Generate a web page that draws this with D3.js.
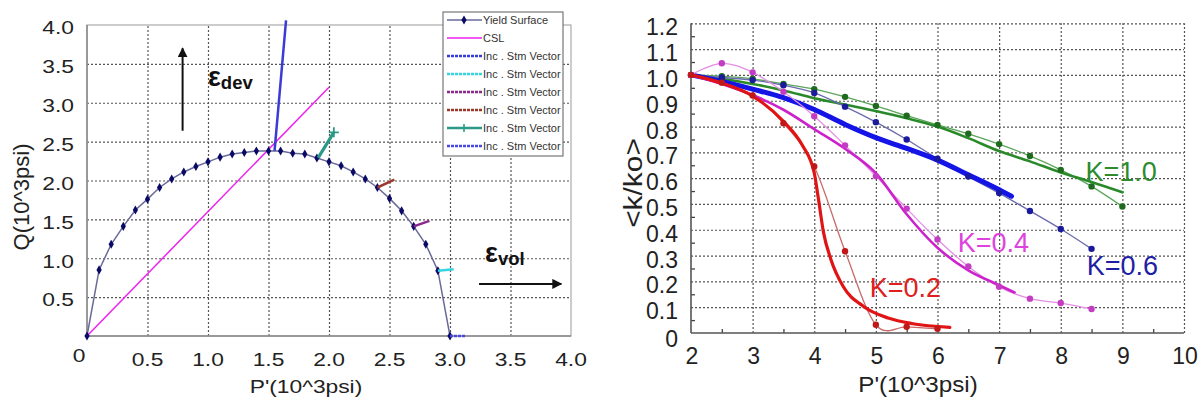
<!DOCTYPE html>
<html><head><meta charset="utf-8">
<script src="https://cdn.jsdelivr.net/npm/d3@7"></script>
<style>body{margin:0;background:#fff;} svg{display:block;font-family:"Liberation Sans",Arial,sans-serif;}</style>
</head><body><svg id="c" width="1201" height="405"></svg>
<script>
// ---------- LEFT CHART DATA ----------
const yieldP = [0,0.1,0.2,0.3,0.4,0.5,0.6,0.7,0.8,0.9,1.0,1.1,1.2,1.3,1.4,1.5,1.6,1.7,1.8,1.9,2.0,2.1,2.2,2.3,2.4,2.5,2.6,2.7,2.8,2.9,3.0];
const yieldQ = [0,0.85,1.18,1.41,1.62,1.76,1.91,2.02,2.11,2.18,2.24,2.30,2.34,2.36,2.38,2.38,2.38,2.35,2.34,2.29,2.24,2.19,2.11,2.02,1.91,1.77,1.61,1.41,1.18,0.84,0];
const cslP = [0, 2.0];
const cslQ = [0, 3.2];
const legendNames = ["Yield Surface","CSL","Inc . Stm Vector","Inc . Stm Vector","Inc . Stm Vector","Inc . Stm Vector","Inc . Stm Vector","Inc . Stm Vector"];
const vecStartP = [1.55, 2.90, 2.70, 2.40, 1.91, 3.00];
const vecStartQ = [2.38, 0.84, 1.41, 1.91, 2.29, 0.00];
const vecEndP   = [1.645, 3.03, 2.83, 2.54, 2.04, 3.13];
const vecEndQ   = [4.06, 0.86, 1.48, 2.01, 2.62, 0.00];
const leftXTicks = [0.5,1.0,1.5,2.0,2.5,3.0,3.5,4.0];
const leftYTicks = [0.5,1.0,1.5,2.0,2.5,3.0,3.5,4.0];

// ---------- RIGHT CHART DATA ----------
const kP = [2,2.5,3,3.5,4,4.5,5,5.5,6,6.5,7,7.5,8,8.5,9];
const k10 = [1.0,0.995,0.985,0.965,0.945,0.915,0.88,0.842,0.806,0.772,0.732,0.686,0.632,0.568,0.49];
const k06 = [1.0,0.99,0.98,0.96,0.93,0.877,0.817,0.75,0.675,0.606,0.542,0.473,0.403,0.326];
const k04 = [1.0,1.045,1.01,0.935,0.84,0.727,0.608,0.482,0.362,0.258,0.179,0.133,0.116,0.093];
const k02 = [1.0,0.97,0.92,0.813,0.645,0.317,0.032,0.024,0.016];
const fit10P = [2,2.5,3,3.5,4,4.5,5,5.5,6,6.5,7,7.5,8,8.5,9];
const fit10K = [1.0,0.985,0.965,0.94,0.91,0.885,0.86,0.832,0.8,0.755,0.705,0.665,0.622,0.585,0.545];
const fit06P = [2,2.5,3,3.5,4,4.5,5,5.5,6,6.5,7,7.2];
const fit06K = [1.0,0.975,0.945,0.912,0.866,0.808,0.757,0.715,0.67,0.613,0.555,0.53];
const fit04P = [2,2.5,3,3.5,4,4.5,5,5.5,6,6.5,7,7.25];
const fit04K = [1.0,0.965,0.922,0.865,0.79,0.714,0.619,0.46,0.33,0.243,0.185,0.157];
const fit02P = [2,2.5,3,3.5,3.8,4.0,4.07,4.15,4.27,4.47,4.8,5.2,5.6,6.2];
const fit02K = [1.0,0.968,0.918,0.82,0.73,0.62,0.516,0.39,0.285,0.18,0.103,0.058,0.036,0.022];
const rightXTicks = [2,3,4,5,6,7,8,9,10];
const rightYTicks = [0,0.1,0.2,0.3,0.4,0.5,0.6,0.7,0.8,0.9,1.0,1.1,1.2];
const kLabels = ["K=1.0","K=0.6","K=0.4","K=0.2"];
const kLabelP = [8.4, 8.42, 6.33, 4.9];
const kLabelK = [0.59, 0.225, 0.314, 0.139];

const svg = d3.select("#c");

function sText(g, x, y, s, size, sx, anchor){
  return g.append("text").attr("transform",`translate(${x},${y}) scale(${sx},1)`)
    .attr("text-anchor",anchor).attr("font-size",size).attr("fill","#222").text(s);
}

// ===== LEFT =====
const xL = d3.scaleLinear().domain([0,4]).range([87,571]);
const yL = d3.scaleLinear().domain([0,4]).range([336,25]);
const gL = svg.append("g");
const gridStyle = g => { g.select(".domain").remove(); g.selectAll("line").attr("stroke","#555").attr("stroke-width",1.2).attr("stroke-dasharray","2,2"); };
gL.append("g").attr("transform",`translate(0,${yL(0)})`)
  .call(d3.axisBottom(xL).tickValues(leftXTicks.slice(0,-1)).tickSize(-(yL(0)-yL(4))).tickFormat(""))
  .call(gridStyle);
gL.append("g").attr("transform",`translate(${xL(0)},0)`)
  .call(d3.axisLeft(yL).tickValues(leftYTicks.slice(0,-1)).tickSize(-(xL(4)-xL(0))).tickFormat(""))
  .call(gridStyle);
gL.append("rect").attr("x",xL(0)).attr("y",yL(4)).attr("width",xL(4)-xL(0)).attr("height",yL(0)-yL(4))
  .attr("fill","none").attr("stroke","#aaa").attr("stroke-width",1.2);
gL.append("line").attr("x1",xL(0)).attr("x2",xL(0)).attr("y1",yL(0)).attr("y2",yL(4)).attr("stroke","#888").attr("stroke-width",1.5);
gL.append("line").attr("x1",xL(0)).attr("x2",xL(4)).attr("y1",yL(0)).attr("y2",yL(0)).attr("stroke","#888").attr("stroke-width",1.5);
const fmt1 = d3.format(".1f");
leftYTicks.forEach(v => sText(gL, 74, yL(v)+9.3, fmt1(v), 19, 1.2, "end"));
leftXTicks.forEach(v => sText(gL, xL(v), 366, fmt1(v), 19, 1.2, "middle"));
sText(gL, 79, 362, "0", 19, 1.2, "middle");
sText(gL, 306, 393, "P'(10^3psi)", 19, 1.2, "middle");
gL.append("text").attr("transform","translate(29,197) rotate(-90)").attr("text-anchor","middle")
  .attr("font-size",22).attr("fill","#222").text("Q(10^3psi)");

// CSL
gL.append("path").datum(cslP.map((p,i)=>[p,cslQ[i]]))
  .attr("d", d3.line().x(d=>xL(d[0])).y(d=>yL(d[1])))
  .attr("fill","none").attr("stroke","#ee22ee").attr("stroke-width",1.5);
// yield surface
const ys = yieldP.map((p,i)=>[p,yieldQ[i]]);
gL.append("path").datum(ys).attr("d", d3.line().x(d=>xL(d[0])).y(d=>yL(d[1])))
  .attr("fill","none").attr("stroke","#6a6a9a").attr("stroke-width",1.5);
const diamond = d3.symbol().type(d3.symbolDiamond).size(24);
gL.selectAll(".ym").data(ys).join("path").attr("d",diamond)
  .attr("transform",d=>`translate(${xL(d[0])},${yL(d[1])})`).attr("fill","#0a0a66");
// vectors
const vecColors = ["#3b3bd6","#33d6e0","#8a2a8a","#9b3a2e","#2a9a86","#4a4ae0"];
const vecWidths = [2.5,2.5,2.5,2.5,3.2,2.5];
vecStartP.forEach((p,i)=>{
  gL.append("path").datum([[p,vecStartQ[i]],[vecEndP[i],vecEndQ[i]]])
    .attr("d", d3.line().x(d=>xL(d[0])).y(d=>yL(d[1])))
    .attr("fill","none").attr("stroke",vecColors[i]).attr("stroke-width",vecWidths[i])
    .attr("stroke-dasharray", i===5 ? "3,1" : null);
});
{
  const x=xL(vecEndP[4]), y=yL(vecEndQ[4]);
  gL.append("path").attr("d",`M${x-5},${y}H${x+5}M${x},${y-5}V${y+5}`).attr("stroke",vecColors[4]).attr("stroke-width",1.8);
}
// arrows & epsilon labels
svg.append("defs").append("marker").attr("id","ah").attr("viewBox","0 0 10 10").attr("refX",9).attr("refY",5)
  .attr("markerWidth",10).attr("markerHeight",10).attr("markerUnits","userSpaceOnUse").attr("orient","auto")
  .append("path").attr("d","M0,0L10,5L0,10Z").attr("fill","#111");
gL.append("line").attr("x1",xL(0.79)).attr("x2",xL(0.79)).attr("y1",yL(2.64)).attr("y2",yL(3.7))
  .attr("stroke","#111").attr("stroke-width",2).attr("marker-end","url(#ah)");
gL.append("line").attr("x1",xL(3.24)).attr("x2",xL(3.92)).attr("y1",yL(0.67)).attr("y2",yL(0.67))
  .attr("stroke","#111").attr("stroke-width",2).attr("marker-end","url(#ah)");
const e1 = gL.append("text").attr("x",xL(1.0)).attr("y",86).attr("font-weight","bold").attr("fill","#111");
e1.append("tspan").attr("font-size",27).text("ε");
e1.append("tspan").attr("font-size",18.5).attr("dy",3).text("dev");
const e2 = gL.append("text").attr("x",xL(3.29)).attr("y",262).attr("font-weight","bold").attr("fill","#111");
e2.append("tspan").attr("font-size",27).text("ε");
e2.append("tspan").attr("font-size",18.5).attr("dy",3).text("vol");

// legend
const lg = gL.append("g");
lg.append("rect").attr("x",443).attr("y",12).attr("width",120).attr("height",144).attr("fill","#fff").attr("stroke","#777").attr("stroke-width",1.2);
const legColors = ["#6a6a9a","#ee22ee"].concat(vecColors);
legendNames.forEach((n,i)=>{
  const y = 20 + i*18;
  lg.append("line").attr("x1",447).attr("x2",482).attr("y1",y).attr("y2",y)
    .attr("stroke",legColors[i]).attr("stroke-width", i<2 ? 1.5 : 2.5)
    .attr("stroke-dasharray", (i>=2 && i!==6) ? "3,1" : null);
  if(i===0) lg.append("path").attr("d",diamond).attr("transform",`translate(464,${y})`).attr("fill","#0a0a66");
  if(i===6) lg.append("path").attr("d",`M460,${y}H468M464,${y-4}V${y+4}`).attr("stroke",legColors[i]).attr("stroke-width",1.6);
  lg.append("text").attr("x",483).attr("y",y+4).attr("font-size",11).attr("fill","#333").text(n);
});

// ===== RIGHT =====
const xR = d3.scaleLinear().domain([2,10]).range([691,1184]);
const yR = d3.scaleLinear().domain([0,1.2]).range([333,23.3]);
const gR = svg.append("g");
gR.append("g").attr("transform",`translate(0,${yR(0)})`)
  .call(d3.axisBottom(xR).tickValues(rightXTicks.slice(1)).tickSize(-(yR(0)-yR(1.2))).tickFormat(""))
  .call(gridStyle);
gR.append("g").attr("transform",`translate(${xR(2)},0)`)
  .call(d3.axisLeft(yR).tickValues(rightYTicks.slice(1)).tickSize(-(xR(10)-xR(2))).tickFormat(""))
  .call(gridStyle);
// minor ticks
gR.append("g").attr("transform",`translate(${xR(2)},0)`)
  .call(d3.axisLeft(yR).tickValues(rightYTicks.slice(0,-1).map(v=>v+0.05)).tickSize(-4).tickFormat(""))
  .call(g=>{g.select(".domain").remove(); g.selectAll("line").attr("stroke","#444").attr("stroke-width",1.3);});
gR.append("g").attr("transform",`translate(0,${yR(0)})`)
  .call(d3.axisBottom(xR).tickValues(rightXTicks.slice(0,-1).map(v=>v+0.5)).tickSize(-4).tickFormat(""))
  .call(g=>{g.select(".domain").remove(); g.selectAll("line").attr("stroke","#444").attr("stroke-width",1.3);});
gR.append("line").attr("x1",xR(2)).attr("x2",xR(2)).attr("y1",yR(0)).attr("y2",yR(1.2)).attr("stroke","#555").attr("stroke-width",1.6);
gR.append("line").attr("x1",xR(2)).attr("x2",xR(10)).attr("y1",yR(0)).attr("y2",yR(0)).attr("stroke","#555").attr("stroke-width",1.6);
rightYTicks.forEach(v => gR.append("text").attr("x",678).attr("y",yR(v)+(v===0?14:12)).attr("text-anchor","end")
  .attr("font-size",23).attr("fill","#222").text(v===0?"0":fmt1(v)));
rightXTicks.forEach(v => gR.append("text").attr("x",xR(v)+1).attr("y",364).attr("text-anchor","middle")
  .attr("font-size",23).attr("fill","#222").text(v));
sText(gR, 918, 392, "P'(10^3psi)", 22, 1.1, "middle");
gR.append("text").attr("transform","translate(642,183) rotate(-90) scale(1.15,1)").attr("text-anchor","middle")
  .attr("font-size",26).attr("fill","#222").text("<k/ko>");

const thinLine = d3.line().x(d=>xR(d[0])).y(d=>yR(d[1])).curve(d3.curveCardinal);
const thickLine = d3.line().x(d=>xR(d[0])).y(d=>yR(d[1])).curve(d3.curveMonotoneX);
const series = [
  {v:k10, fp:fit10P, fk:fit10K, thin:"#5aa55a", dot:"#1e6b1e", thick:"#2a8a2a", tw:2.6, lab:"#2e8b2e"},
  {v:k06, fp:fit06P, fk:fit06K, thin:"#6a6aae", dot:"#1a1a9a", thick:"#1414e6", tw:5, lab:"#1f1fa5"},
  {v:k04, fp:fit04P, fk:fit04K, thin:"#e490e4", dot:"#c43cc4", thick:"#cc22cc", tw:2.6, lab:"#dd44dd"},
  {v:k02, fp:fit02P, fk:fit02K, thin:"#c86a6a", dot:"#c01818", thick:"#e01414", tw:3.2, lab:"#e02020"}
];
series.forEach((s,i)=>{
  const pts = s.v.map((k,j)=>[kP[j],k]);
  gR.append("path").datum(pts).attr("d",thinLine).attr("fill","none").attr("stroke",s.thin).attr("stroke-width",1.3);
  gR.append("path").datum(s.fp.map((p,j)=>[p,s.fk[j]])).attr("d",thickLine).attr("fill","none")
    .attr("stroke",s.thick).attr("stroke-width",s.tw).attr("stroke-linecap","round");
  gR.selectAll(null).data(pts).join("circle").attr("cx",d=>xR(d[0])).attr("cy",d=>yR(d[1])).attr("r",3.2).attr("fill",s.dot);
  gR.append("text").attr("x",xR(kLabelP[i])).attr("y",yR(kLabelK[i])).attr("font-size",27).attr("fill",s.lab).text(kLabels[i]);
});
</script></body></html>
